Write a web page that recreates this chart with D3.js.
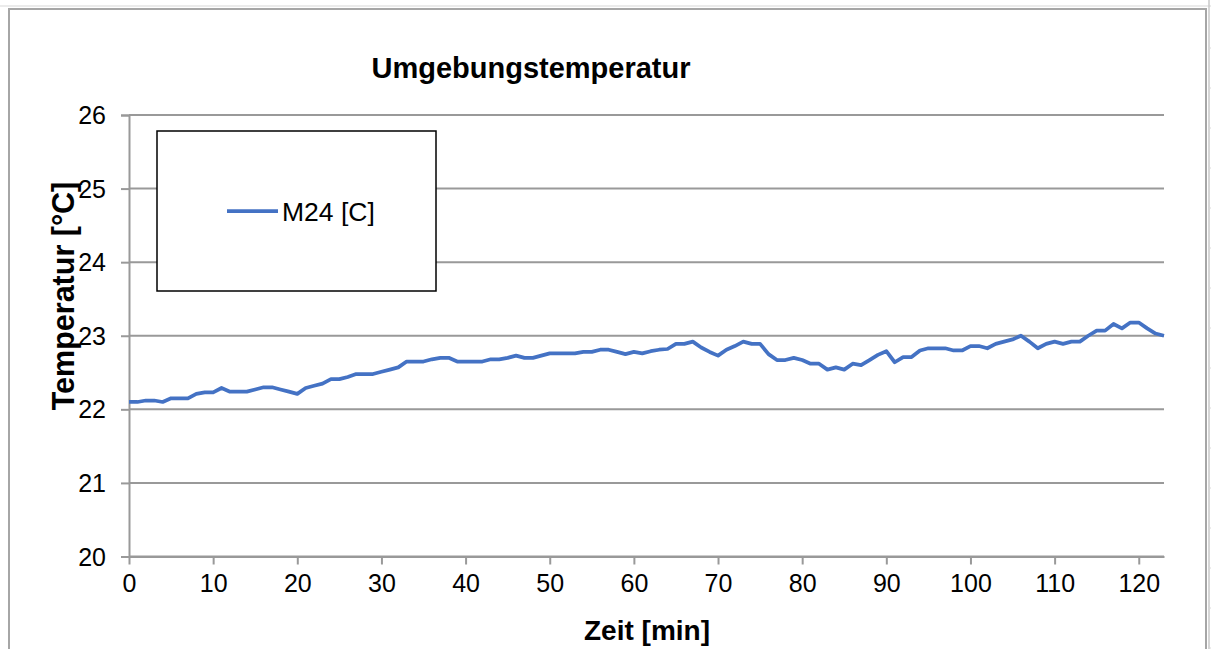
<!DOCTYPE html>
<html>
<head>
<meta charset="utf-8">
<script src="https://cdn.jsdelivr.net/npm/d3@7"></script>
<style>
  body { margin: 0; background: #fff; }
  svg text { font-family: "Liberation Sans", Arial, sans-serif; fill: #000; }
</style>
</head>
<body>
<svg id="chart" width="1211" height="649"></svg>
<script>
'use strict';

/* Data */
var minutes = d3.range(0, 124);
var m24 = [
  22.10, 22.10, 22.12, 22.12, 22.10, 22.15, 22.15, 22.15, 22.21, 22.23,
  22.23, 22.29, 22.24, 22.24, 22.24, 22.27, 22.30, 22.30, 22.27, 22.24,
  22.21, 22.29, 22.32, 22.35, 22.41, 22.41, 22.44, 22.48, 22.48, 22.48,
  22.51, 22.54, 22.57, 22.65, 22.65, 22.65, 22.68, 22.70, 22.70, 22.65,
  22.65, 22.65, 22.65, 22.68, 22.68, 22.70, 22.73, 22.70, 22.70, 22.73,
  22.76, 22.76, 22.76, 22.76, 22.78, 22.78, 22.81, 22.81, 22.78, 22.75,
  22.78, 22.76, 22.79, 22.81, 22.82, 22.89, 22.89, 22.92, 22.84, 22.78,
  22.73, 22.81, 22.86, 22.92, 22.89, 22.89, 22.75, 22.67, 22.67, 22.70,
  22.67, 22.62, 22.62, 22.54, 22.57, 22.54, 22.62, 22.60, 22.67, 22.74,
  22.79, 22.64, 22.71, 22.71, 22.80, 22.83, 22.83, 22.83, 22.80, 22.80,
  22.86, 22.86, 22.83, 22.89, 22.92, 22.95, 23.00, 22.92, 22.83, 22.89,
  22.92, 22.89, 22.92, 22.92, 23.00, 23.07, 23.07, 23.16, 23.10, 23.18,
  23.18, 23.10, 23.03, 23.00
];
var xTicks = d3.range(0, 121, 10);
var yTicks = [20, 21, 22, 23, 24, 25, 26];
var seriesName = "M24 [C]";
var chartTitle = "Umgebungstemperatur";
var xTitle = "Zeit [min]";
var yTitle = "Temperatur [°C]";

var svg = d3.select("#chart");

/* spreadsheet leftovers around the chart object */
svg.append("line")
  .attr("x1", 0).attr("x2", 1211).attr("y1", 6).attr("y2", 6)
  .style("stroke", "#e4e4e4").style("stroke-width", 1.5);
svg.append("line")
  .attr("x1", 1209).attr("x2", 1209).attr("y1", 0).attr("y2", 649)
  .style("stroke", "#c8c8c8").style("stroke-width", 1.5);
svg.selectAll("line.cell")
  .data(d3.range(48, 649, 40))
  .enter().append("line")
  .attr("class", "cell")
  .attr("x1", 1209).attr("x2", 1211)
  .attr("y1", function(d) { return d; }).attr("y2", function(d) { return d; })
  .style("stroke", "#d8d8d8");

/* chart area border */
svg.append("rect")
  .attr("x", 9).attr("y", 9)
  .attr("width", 1197).attr("height", 660)
  .style("fill", "#fff")
  .style("stroke", "#a6a6a6")
  .style("stroke-width", 2);

var margin = {left: 129, right: 1164, top: 115, bottom: 556.5};

var x = d3.scaleLinear()
  .domain([0, 123])
  .range([margin.left, margin.right]);

var y = d3.scaleLinear()
  .domain([20, 26])
  .range([margin.bottom, margin.top]);

/* gridlines + y axis */
var yAxis = svg.append("g")
  .attr("transform", "translate(" + margin.left + ",0)")
  .call(d3.axisLeft(y)
    .tickValues(yTicks)
    .tickSize(8)
    .tickPadding(15)
    .tickFormat(d3.format("d")));
yAxis.select(".domain").style("stroke", "#999").style("stroke-width", 2);
yAxis.selectAll(".tick line").style("stroke", "#999").style("stroke-width", 2);
yAxis.selectAll(".tick text")
  .style("font-size", "25px")
  .attr("dy", "0.34em");

svg.append("g")
  .selectAll("line")
  .data(yTicks)
  .enter().append("line")
  .attr("x1", margin.left)
  .attr("x2", margin.right)
  .attr("y1", function(d) { return y(d); })
  .attr("y2", function(d) { return y(d); })
  .style("stroke", "#999")
  .style("stroke-width", 2);

/* x axis */
var xAxis = svg.append("g")
  .attr("transform", "translate(0," + margin.bottom + ")")
  .call(d3.axisBottom(x)
    .tickValues(xTicks)
    .tickSize(8)
    .tickSizeOuter(0)
    .tickPadding(10)
    .tickFormat(d3.format("d")));
xAxis.select(".domain").style("stroke", "#999").style("stroke-width", 2);
xAxis.selectAll(".tick line").style("stroke", "#999").style("stroke-width", 2);
xAxis.selectAll(".tick text").style("font-size", "25px");

/* series */
var line = d3.line()
  .x(function(d, i) { return x(minutes[i]); })
  .y(function(d) { return y(d); });

svg.append("path")
  .datum(m24)
  .attr("d", line)
  .style("fill", "none")
  .style("stroke", "#4472c4")
  .style("stroke-width", 3.75)
  .style("stroke-linejoin", "round");

/* titles */
svg.append("text")
  .attr("x", 531)
  .attr("y", 78)
  .attr("text-anchor", "middle")
  .style("font-size", "29px")
  .style("font-weight", "bold")
  .text(chartTitle);

svg.append("text")
  .attr("x", 647)
  .attr("y", 640)
  .attr("text-anchor", "middle")
  .style("font-size", "28px")
  .style("font-weight", "bold")
  .text(xTitle);

svg.append("text")
  .attr("transform", "translate(74,296) rotate(-90)")
  .attr("text-anchor", "middle")
  .style("font-size", "30.5px")
  .style("font-weight", "bold")
  .text(yTitle);

/* legend */
var legend = svg.append("g");
legend.append("rect")
  .attr("x", 157).attr("y", 131)
  .attr("width", 279).attr("height", 160)
  .style("fill", "#fff")
  .style("stroke", "#000")
  .style("stroke-width", 1.5);
legend.append("line")
  .attr("x1", 227).attr("x2", 278)
  .attr("y1", 211).attr("y2", 211)
  .style("stroke", "#4472c4")
  .style("stroke-width", 3.75);
legend.append("text")
  .attr("x", 282)
  .attr("y", 221)
  .style("font-size", "26.5px")
  .text(seriesName);
</script>
</body>
</html>
